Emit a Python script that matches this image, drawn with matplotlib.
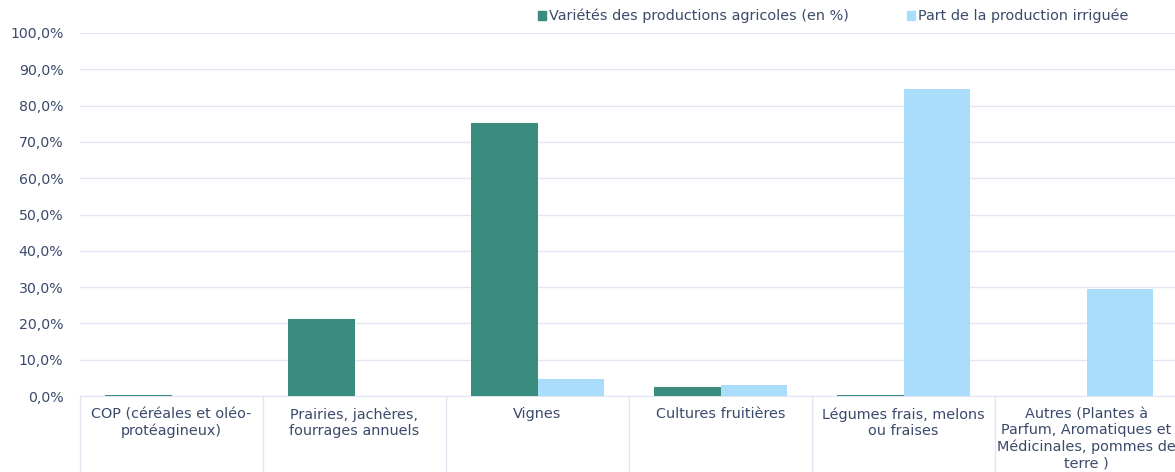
import numpy as np
import matplotlib.pyplot as plt
from matplotlib.patches import Patch
from matplotlib.ticker import FuncFormatter
import matplotlib.transforms as mtransforms

categories = [
    "COP (céréales et oléo-\nprotéagineux)",
    "Prairies, jachères,\nfourrages annuels",
    "Vignes",
    "Cultures fruitières",
    "Légumes frais, melons\nou fraises",
    "Autres (Plantes à\nParfum, Aromatiques et\nMédicinales, pommes de\nterre )",
]
varietes = [0.4, 21.1, 75.2, 2.6, 0.3, 0.1]
irriguee = [0.0, 0.0, 4.8, 2.9, 84.6, 29.5]

vert = "#3a8c7e"
bleu = "#aadcfc"
texte = "#3b4a6b"
grille = "#e3e6f2"

plt.rcParams['font.family'] = ['DejaVu Sans']

fig = plt.figure(figsize=(11.75, 4.72), dpi=100)
ax = fig.add_axes([80 / 1175, 1 - 396 / 472, 1098 / 1175, 363 / 472])

x = np.arange(len(categories))
w = 0.365
ax.bar(x - w / 2, varietes, w, color=vert, zorder=3)
ax.bar(x + w / 2, irriguee, w, color=bleu, zorder=3)

ax.set_xlim(-0.5, len(categories) - 0.5)
ax.set_ylim(0, 100)
ax.set_yticks(np.arange(0, 101, 10))
ax.yaxis.set_major_formatter(FuncFormatter(lambda v, p: f"{v:.1f}%".replace(".", ",")))
ax.grid(axis="y", color=grille, linewidth=1, zorder=0)

ax.set_xticks(x)
ax.set_xticklabels(categories, fontsize=10.4, color=texte, linespacing=1.2)
ax.tick_params(axis="x", length=0, pad=8)
ax.tick_params(axis="y", length=0, pad=12, labelsize=10.2, labelcolor=texte)

for s in ["top", "right", "left"]:
    ax.spines[s].set_visible(False)
ax.spines["bottom"].set_color(grille)

# séparateurs verticaux entre les catégories
trans = mtransforms.blended_transform_factory(ax.transData, ax.transAxes)
for b in np.arange(-0.5, len(categories), 1.0):
    ax.plot([b, b], [0, -0.25], transform=trans, color=grille, linewidth=1, clip_on=False)

handles = [Patch(color=vert), Patch(color=bleu)]
labels = ["Variétés des productions agricoles (en %)", "Part de la production irriguée"]
fig.legend(handles, labels, loc="center", bbox_to_anchor=(0.709, 0.966), ncol=2, frameon=False,
           fontsize=10.4, labelcolor=texte, handlelength=0.6, handleheight=0.6, handletextpad=0.2,
           columnspacing=4.0)

fig.savefig("out.png", dpi=100)
